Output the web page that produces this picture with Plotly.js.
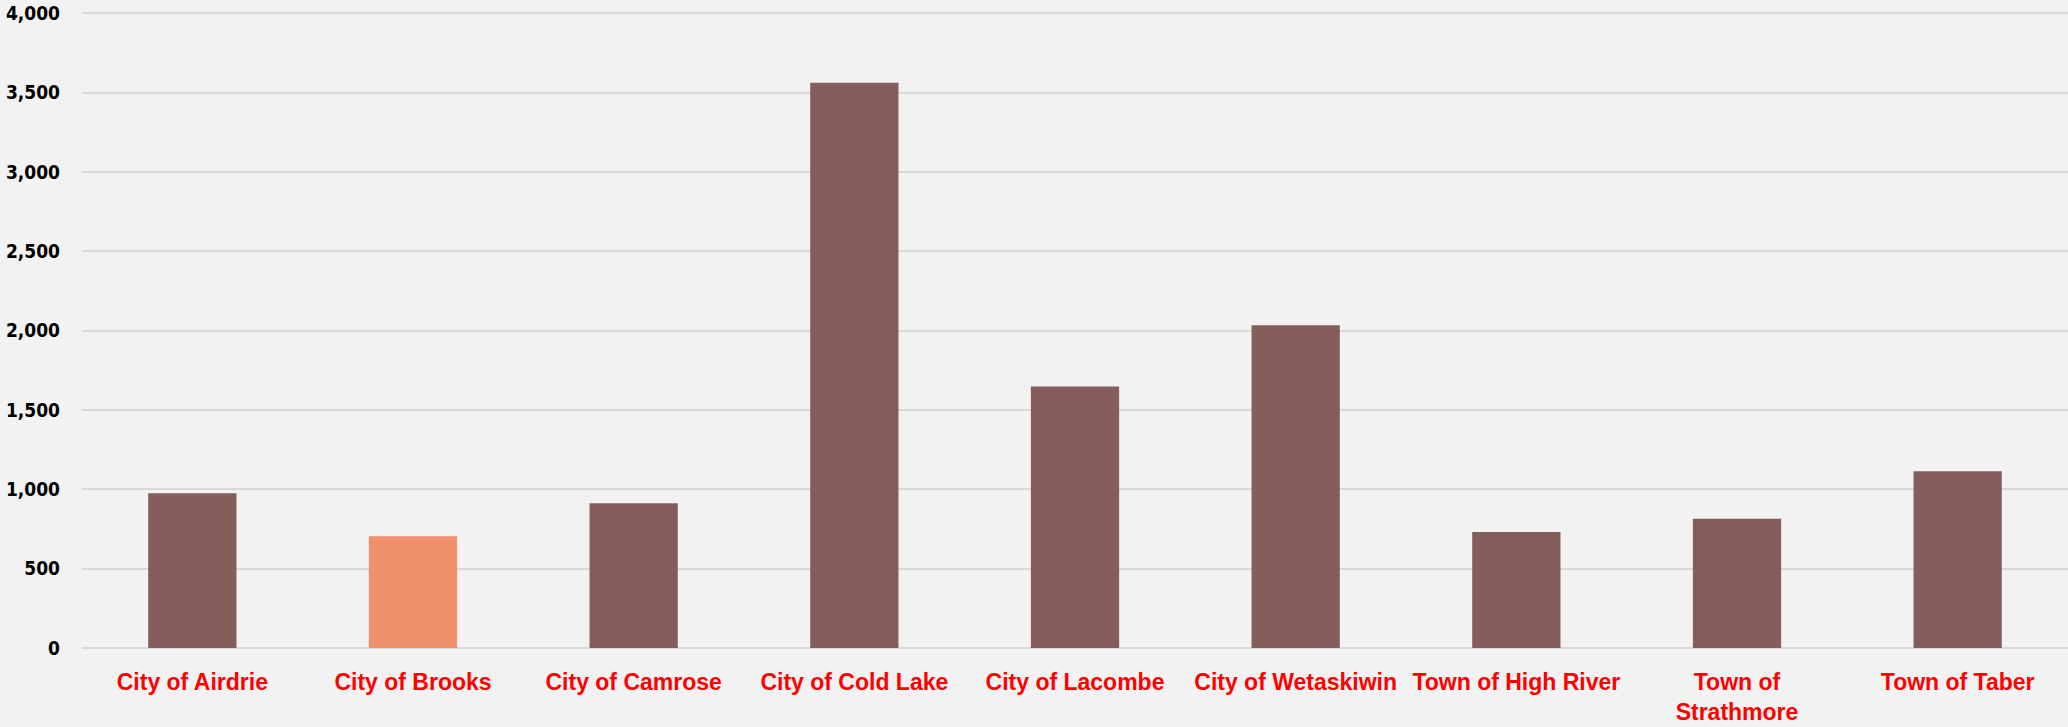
<!DOCTYPE html>
<html>
<head>
<meta charset="utf-8">
<script src="https://cdn.plot.ly/plotly-3.0.1.min.js"></script>
<style>html,body{margin:0;padding:0;background:#F2F2F2;}#chart{width:2068px;height:727px;}</style>
</head>
<body>
<div id="chart"></div>
<script>
const categories = ["City of Airdrie","City of Brooks","City of Camrose","City of Cold Lake","City of Lacombe","City of Wetaskiwin","Town of High River","Town of<br>Strathmore","Town of Taber"];
const values = [975, 705, 912, 3562, 1648, 2034, 731, 814, 1114];
const highlight = "City of Brooks";
const yTicks = [0, 500, 1000, 1500, 2000, 2500, 3000, 3500, 4000];
const yTickLabels = ["0","500","1,000","1,500","2,000","2,500","3,000","3,500","4,000"];

const colors = categories.map(c => c === highlight ? "#F0906C" : "#855E5C");

Plotly.newPlot("chart", [{
  type: "bar",
  x: categories,
  y: values,
  marker: {color: colors, line: {width: 0}},
  hoverinfo: "skip"
}], {
  width: 2068, height: 727,
  margin: {l: 82, r: 0, t: 12, b: 79},
  paper_bgcolor: "#F2F2F2",
  plot_bgcolor: "#F2F2F2",
  bargap: 0.6,
  showlegend: false,
  xaxis: {
    showgrid: false, zeroline: false, showline: false, ticks: "",
    tickfont: {family: "Liberation Sans Narrow, Arial Narrow, sans-serif", size: 23, color: "#FF0000", weight: "bold"},
    ticklabelstandoff: 18,
    tickangle: 0
  },
  yaxis: {
    range: [0, 4008],
    tickvals: yTicks, ticktext: yTickLabels,
    showgrid: true, gridcolor: "#D9D9D9", gridwidth: 2,
    zeroline: true, zerolinecolor: "#D9D9D9", zerolinewidth: 2,
    showline: false, ticks: "",
    tickfont: {family: "DejaVu Sans Condensed, DejaVu Sans, sans-serif", size: 19, color: "#000000", weight: "bold"},
    ticklabelstandoff: 21
  }
}, {displayModeBar: false, staticPlot: true});
</script>
</body>
</html>
